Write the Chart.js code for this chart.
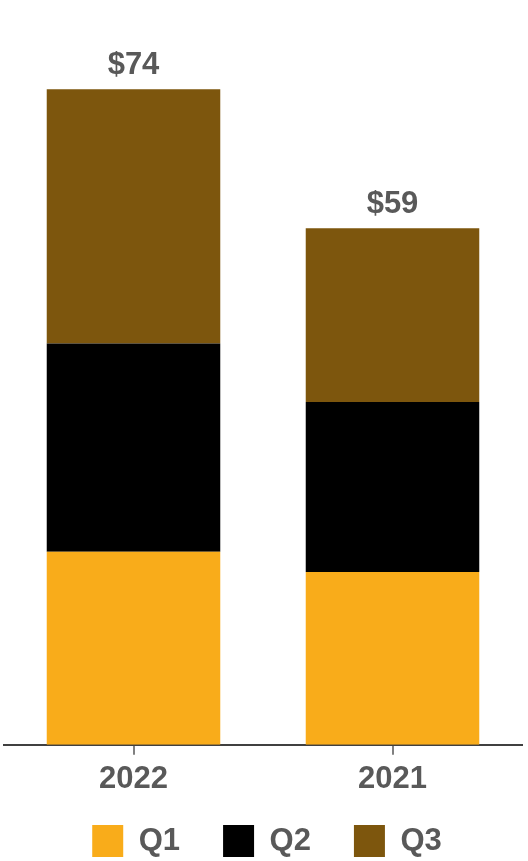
<!DOCTYPE html>
<html>
<head>
<meta charset="utf-8">
<script src="https://cdn.jsdelivr.net/npm/chart.js@4"></script>
<style>
  html, body { margin: 0; padding: 0; background: #fff; }
  #wrap { width: 528px; height: 861px; position: relative; }
</style>
</head>
<body>
<div id="wrap"><canvas id="grafico"></canvas></div>
<script>
// Datos
const anios = ['2022', '2021'];
const q1 = [21.8, 19.5];
const q2 = [23.5, 19.2];
const q3 = [28.7, 19.6];
const totales = ['$74', '$59'];

const gris = '#595959';
const fuente = "'Liberation Sans', Arial, sans-serif";

// Plugin para dibujar el total encima de cada columna
const etiquetasTotales = {
  id: 'etiquetasTotales',
  afterDatasetsDraw(chart) {
    const ctx = chart.ctx;
    const meta = chart.getDatasetMeta(chart.data.datasets.length - 1);
    ctx.save();
    ctx.font = 'bold 31px ' + fuente;
    ctx.fillStyle = gris;
    ctx.textAlign = 'center';
    ctx.textBaseline = 'alphabetic';
    meta.data.forEach((bar, i) => {
      ctx.fillText(totales[i], bar.x, bar.y - 15);
    });
    ctx.restore();
  }
};

// Ajuste de la leyenda: menos alto y un poco más arriba
const ajusteLeyenda = {
  id: 'ajusteLeyenda',
  afterInit(chart) {
    const leyenda = chart.legend;
    const fitOriginal = leyenda.fit;
    leyenda.fit = function () {
      fitOriginal.call(this);
      this.height -= 28;
    };
  },
  afterLayout(chart) {
    // se sube la leyenda sin recortar su contenido
    chart.legend.top -= 22;
    chart.legend.bottom = chart.height;
    chart.legend.left += 8;
  }
};

new Chart(document.getElementById('grafico'), {
  type: 'bar',
  data: {
    labels: anios,
    datasets: [
      { label: 'Q1', data: q1, backgroundColor: '#F9AC1A' },
      { label: 'Q2', data: q2, backgroundColor: '#000000' },
      { label: 'Q3', data: q3, backgroundColor: '#7D560D' }
    ]
  },
  options: {
    responsive: true,
    maintainAspectRatio: false,
    animation: false,
    categoryPercentage: 0.67,
    barPercentage: 1,
    layout: { padding: { left: 4, right: 6, top: 36, bottom: 0 } },
    plugins: {
      tooltip: { enabled: false },
      legend: {
        position: 'bottom',
        labels: {
          boxWidth: 31,
          boxHeight: 32,
          padding: 43,
          color: gris,
          font: { family: fuente, size: 31, weight: 'bold' }
        }
      }
    },
    scales: {
      x: {
        stacked: true,
        grid: {
          offset: false,
          drawOnChartArea: false,
          drawTicks: true,
          tickLength: 10,
          color: '#808080',
          lineWidth: 2
        },
        border: { display: true, color: '#404040', width: 2 },
        ticks: {
          color: gris,
          padding: 6,
          font: { family: fuente, size: 31, weight: 'bold' }
        }
      },
      y: {
        stacked: true,
        display: false,
        min: 0,
        max: 80
      }
    }
  },
  plugins: [etiquetasTotales, ajusteLeyenda]
});
</script>
</body>
</html>
